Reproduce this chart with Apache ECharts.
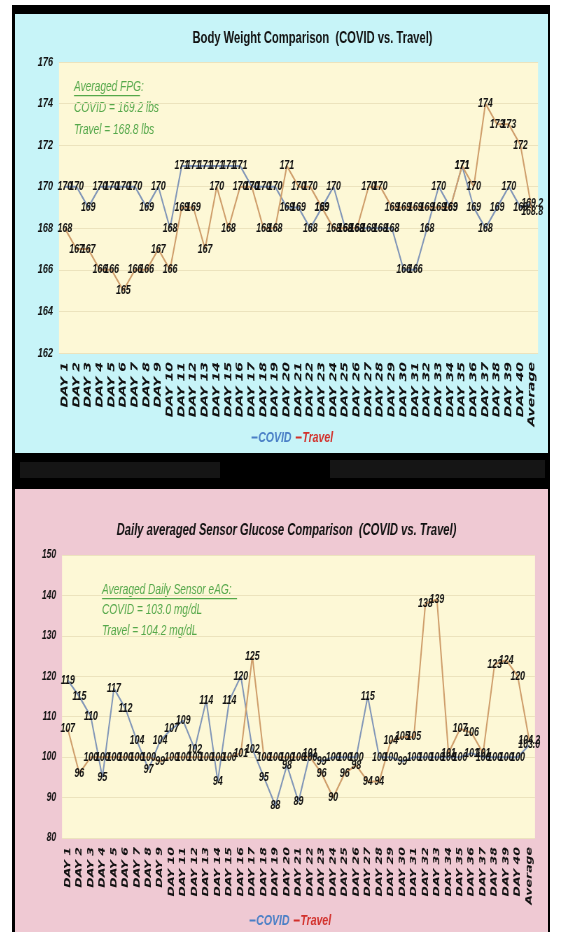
<!DOCTYPE html>
<html><head><meta charset="utf-8">
<script src="https://cdn.jsdelivr.net/npm/echarts/dist/echarts.min.js"></script>
<style>
html,body{margin:0;padding:0;background:#fff;width:562px;height:932px;overflow:hidden;}
#frame{position:absolute;left:12px;top:5px;width:538px;height:927px;background:#000;}
.blur{position:absolute;background:#151515;}
.panel{position:absolute;left:15px;width:533px;overflow:hidden;}
#p1{top:14px;height:439px;background:#c7f4f8;}
#p2{top:489px;height:443px;background:#efc9d3;}
.chart{position:absolute;left:0;top:0;transform-origin:0 0;}
</style></head>
<body>
<div id="frame"></div>
<div class="blur" style="left:20px;top:462px;width:200px;height:16px"></div>
<div class="blur" style="left:330px;top:460px;width:215px;height:18px"></div>
<div class="panel" id="p1"><div class="chart" id="c1"></div></div>
<div class="panel" id="p2"><div class="chart" id="c2"></div></div>
<script>
const categories = ['DAY 1','DAY 2','DAY 3','DAY 4','DAY 5','DAY 6','DAY 7','DAY 8','DAY 9','DAY 10',
  'DAY 11','DAY 12','DAY 13','DAY 14','DAY 15','DAY 16','DAY 17','DAY 18','DAY 19','DAY 20',
  'DAY 21','DAY 22','DAY 23','DAY 24','DAY 25','DAY 26','DAY 27','DAY 28','DAY 29','DAY 30',
  'DAY 31','DAY 32','DAY 33','DAY 34','DAY 35','DAY 36','DAY 37','DAY 38','DAY 39','DAY 40','Average'];

const weightCovid = [170,170,169,170,170,170,170,169,170,168,
  171,171,171,171,171,171,170,170,170,169,
  169,168,169,170,168,168,168,168,168,166,
  166,168,170,169,171,169,168,169,170,169, 169.2];
const weightTravel = [168,167,167,166,166,165,166,166,167,166,
  169,169,167,170,168,170,170,168,168,171,
  170,170,169,168,168,168,170,170,169,169,
  169,169,169,169,171,170,174,173,173,172, 168.8];

const glucoseCovid = [119,115,110,95,117,112,104,97,104,107,
  109,102,114,94,114,120,102,95,88,98,
  89,101,99,100,100,100,115,100,100,99,
  100,100,100,100,100,101,100,100,100,100, 103.0];
const glucoseTravel = [107,96,100,100,100,100,100,100,99,100,
  100,100,100,100,100,101,125,100,100,100,
  100,100,96,90,96,98,94,94,104,105,
  105,138,139,101,107,106,101,123,124,120, 104.2];

const weightAxis = {min:162, max:176, interval:2};
const glucoseAxis = {min:80, max:150, interval:10};

const titles = ['Body Weight Comparison  (COVID vs. Travel)',
                'Daily averaged Sensor Glucose Comparison  (COVID vs. Travel)'];
const notes1 = ['Averaged FPG:', 'COVID = 169.2 lbs', 'Travel = 168.8 lbs'];
const notes2 = ['Averaged Daily Sensor eAG:', 'COVID = 103.0 mg/dL', 'Travel = 104.2 mg/dL'];

// the reference slide is squeezed horizontally; draw wide and compress
const S = 0.7;
const FONT = '"Liberation Sans",Arial,sans-serif';
const COVID_LINE = '#8196b8', TRAVEL_LINE = '#cf9e6b';
const COVID_TXT = '#4a7fc6', TRAVEL_TXT = '#d2302b';
const GREEN = '#55a84a';

function labelFmt(p){ return p.dataIndex === categories.length - 1 ? Number(p.value).toFixed(1) : String(p.value); }
const u = v => v / S;  // panel px -> unscaled chart px

function build(cfg){
  const lineSeries = (name, data, color) => ({
    name, type:'line', data, symbol:'circle', symbolSize:1, smooth:false,
    lineStyle:{color, width:2}, itemStyle:{color:'rgba(0,0,0,0)', borderWidth:0},
    label:{show:true, position:'inside', formatter:labelFmt, color:'#111',
      fontFamily:FONT, fontWeight:'bold', fontStyle:'italic', fontSize:cfg.labelFont},
    emphasis:{disabled:true}
  });
  const nt = cfg.notes;
  const noteFont = 'italic 14.5px ' + FONT;
  return {
    animation:false,
    title:{text:cfg.title, left:u(cfg.titleX), top:cfg.titleTop, textAlign:'center',
      textStyle:{fontFamily:FONT, fontWeight:'bold', fontStyle:cfg.titleItalic?'italic':'normal', fontSize:cfg.titleSize, color:'#111'}},
    legend:{left:u(cfg.legendX), top:cfg.legendTop, icon:'rect', itemWidth:u(6), itemHeight:2, itemGap:6,
      textStyle:{fontFamily:FONT, fontWeight:'bold', fontStyle:'italic', fontSize:15, padding:[0,0,0,-4]},
      data:[{name:'COVID', itemStyle:{color:COVID_TXT}, textStyle:{color:COVID_TXT}},
            {name:'Travel', itemStyle:{color:TRAVEL_TXT}, textStyle:{color:TRAVEL_TXT}}]},
    grid:{left:u(cfg.grid[0]), right:u(cfg.grid[1]), top:cfg.grid[2], bottom:cfg.grid[3], show:true,
      backgroundColor:'#fdf8d6', borderWidth:0, containLabel:false},
    xAxis:{type:'category', data:categories, boundaryGap:true,
      axisLine:{show:false}, axisTick:{show:false},
      axisLabel:{interval:0, rotate:90, margin:cfg.xMargin, color:'#111', fontFamily:'"DejaVu Sans",sans-serif',
        fontWeight:'bold', fontStyle:'italic', fontSize:cfg.xFont}},
    yAxis:{type:'value', min:cfg.axis.min, max:cfg.axis.max, interval:cfg.axis.interval,
      axisLine:{show:false}, axisTick:{show:false},
      splitLine:{show:true, lineStyle:{color:'#ece3bd', width:1}},
      axisLabel:{margin:u(6), color:'#111', fontFamily:FONT, fontWeight:'bold', fontStyle:'italic', fontSize:cfg.yFont}},
    graphic:[
      {type:'text', x:u(cfg.noteX), y:cfg.noteY[0], style:{text:nt[0], fill:GREEN, font:noteFont, verticalAlign:'middle'}},
      {type:'rect', x:u(cfg.noteX), y:cfg.noteY[0]+8, shape:{width:u(cfg.underline), height:1.2}, style:{fill:GREEN}},
      {type:'text', x:u(cfg.noteX), y:cfg.noteY[1], style:{text:nt[1], fill:GREEN, font:noteFont, verticalAlign:'middle'}},
      {type:'text', x:u(cfg.noteX), y:cfg.noteY[2], style:{text:nt[2], fill:GREEN, font:noteFont, verticalAlign:'middle'}}
    ],
    series:[lineSeries('COVID', cfg.covid, COVID_LINE), lineSeries('Travel', cfg.travel, TRAVEL_LINE)]
  };
}

function make(id, w, h, cfg){
  const el = document.getElementById(id);
  el.style.width = u(w) + 'px';
  el.style.height = h + 'px';
  el.style.transform = 'scaleX(' + S + ')';
  const chart = echarts.init(el, null, {renderer:'canvas', width:u(w), height:h});
  chart.setOption(build(cfg));
}

make('c1', 533, 439, {title:titles[0], titleX:294, titleTop:12, titleSize:16, titleItalic:false,
  legendX:233, legendTop:411, grid:[44,10,48,100], xMargin:9, xFont:14, axis:weightAxis,
  labelFont:12.5, yFont:13,
  notes:notes1, noteX:59, noteY:[73,94,116], underline:66,
  covid:weightCovid, travel:weightTravel});

make('c2', 533, 443, {title:titles[1], titleX:268, titleTop:29, titleSize:16, titleItalic:true,
  legendX:231, legendTop:419, grid:[47,13,66,94], xMargin:9, xFont:12.5, axis:glucoseAxis,
  labelFont:12.5, yFont:12,
  notes:notes2, noteX:87, noteY:[101,121,142], underline:135,
  covid:glucoseCovid, travel:glucoseTravel});
</script>
</body></html>
